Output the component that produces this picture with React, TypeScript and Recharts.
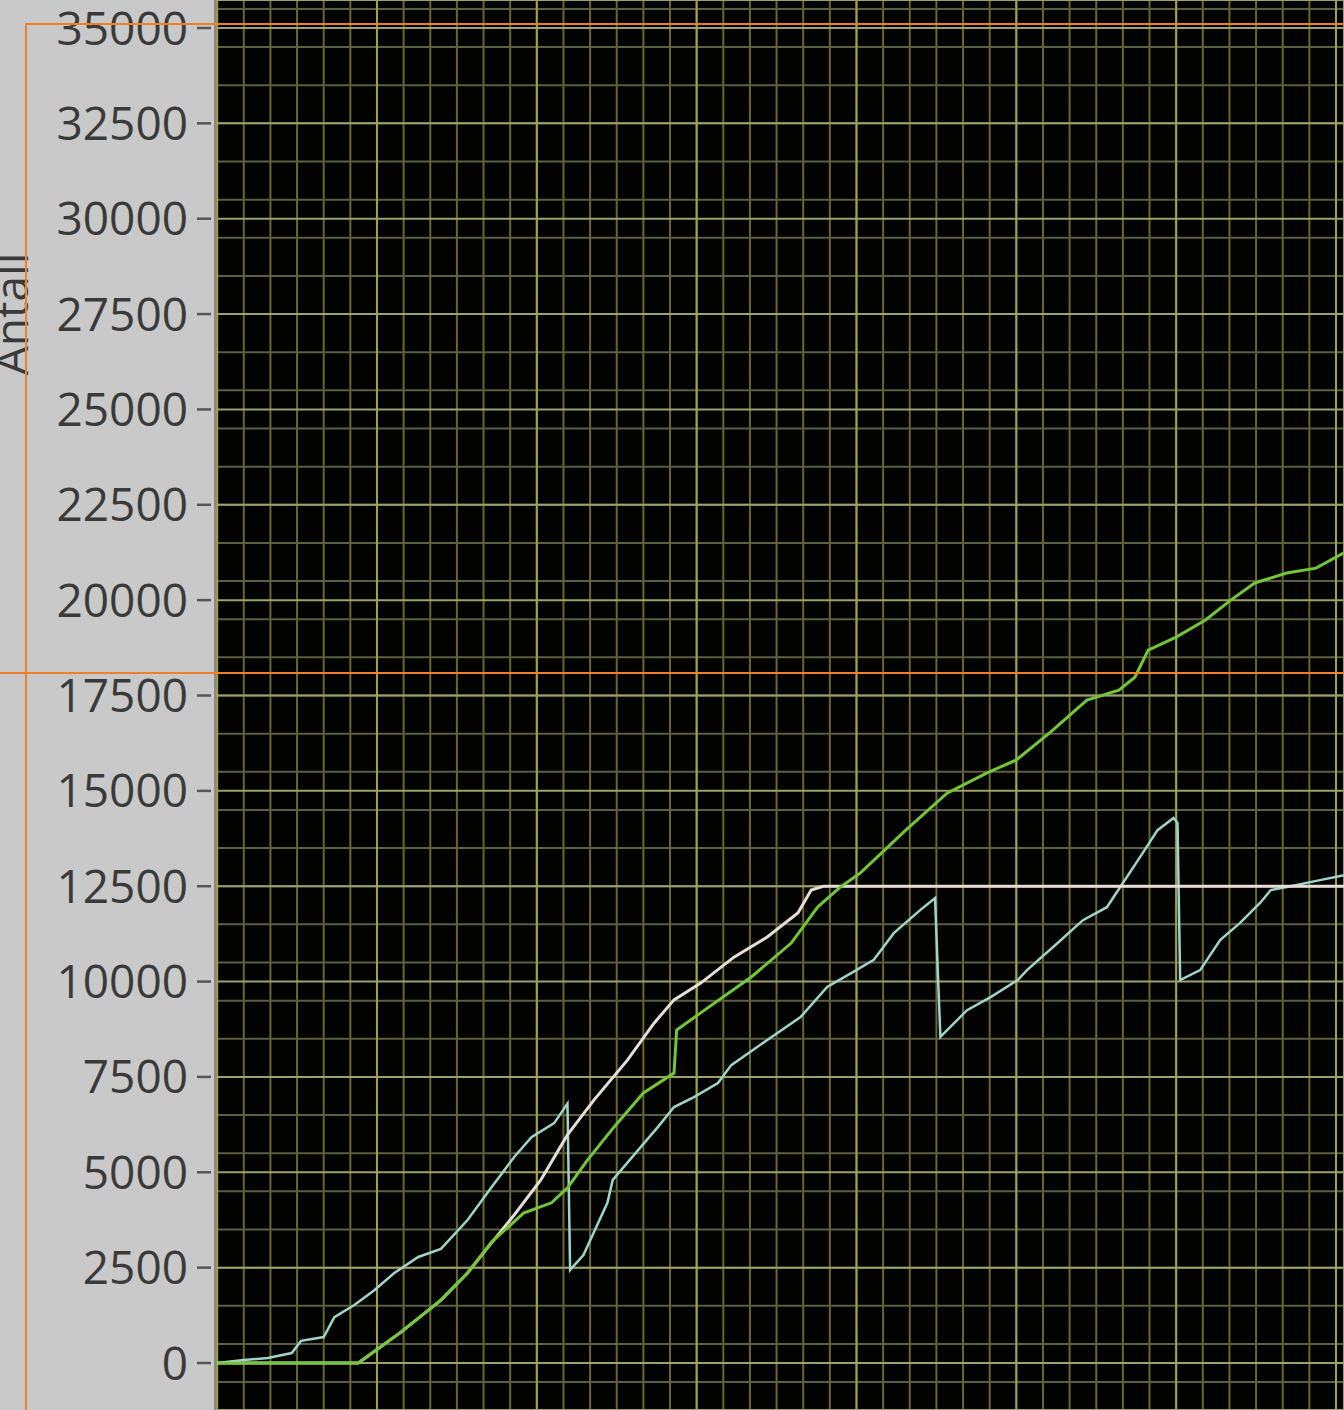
import React from 'react';
import { LineChart, Line, XAxis, YAxis, CartesianGrid } from 'recharts';

// tid i små ruter (6 små ruter per stor rute)
const turkisT = [
  0, 1.0, 1.9, 2.8, 3.15, 4.0, 4.4, 5.15, 5.9, 6.65, 7.55, 8.4, 9.4, 10.3, 11.15, 11.8, 12.65, 13.15,
  13.25, 13.75, 14.65, 14.85, 15.9, 16.55, 17.15, 17.9, 18.8, 19.3, 20.65, 21.9, 22.9, 23.8, 24.65,
  25.4, 26.4, 26.95, 27.05, 27.15, 28.15, 29.05, 30.05, 30.4, 31.55, 32.5, 33.4, 33.9, 34.65, 35.3,
  35.9, 36.05, 36.15, 36.9, 37.65, 38.4, 39.15, 39.55, 40.15, 41.4, 42.3,
];
const turkisAntall = [
  0, 80, 130, 260, 580, 680, 1200, 1520, 1910, 2360, 2780, 2990, 3750, 4610, 5400, 5920, 6290, 6800,
  2440, 2830, 4200, 4800, 5660, 6190, 6710, 6970, 7340, 7810, 8470, 9070, 9860, 10220, 10570,
  11270, 11880, 12190, 10300, 8550, 9250, 9600, 10040, 10300, 11010, 11610, 11950, 12480, 13270, 13970,
  14290, 14160, 10040, 10300, 11090, 11540, 12060, 12400, 12480, 12660, 12790,
];

const hvitT = [0, 5.3, 6.9, 8.4, 9.4, 10.3, 11.15, 12.15, 13.15, 14.15, 15.4, 16.4, 17.15, 18.15, 19.4, 20.65, 21.8, 22.3, 22.75, 42.3];
const hvitAntall = [0, 0, 810, 1650, 2360, 3150, 3880, 4800, 5980, 6900, 7940, 8910, 9520, 9960, 10640, 11170, 11800, 12400, 12500, 12500];

const gronnT = [
  0, 5.3, 6.9, 8.4, 9.4, 10.3, 11.5, 12.55, 13.15, 13.9, 14.9, 16.0, 17.15, 17.25, 18.15, 20.05, 21.55,
  22.55, 23.4, 24.15, 25.85, 27.4, 28.9, 30.0, 31.25, 32.65, 33.85, 34.45, 34.95, 36.0, 37.1, 38.05,
  38.95, 40.15, 41.25, 42.3,
];
const gronnAntall = [
  0, 0, 810, 1650, 2360, 3170, 3930, 4200, 4590, 5320, 6190, 7080, 7600, 8730, 9180, 10120, 11010,
  11960, 12480, 12850, 13970, 14940, 15470, 15810, 16520, 17380, 17640, 17980, 18690, 19030, 19480, 20000,
  20450, 20710, 20840, 21240,
];

const yTicks = [0, 2500, 5000, 7500, 10000, 12500, 15000, 17500, 20000, 22500, 25000, 27500, 30000, 32500, 35000];
const yMinor = Array.from({ length: 74 }, (_, i) => -1000 + i * 500);
const xMajor = [0, 6, 12, 18, 24, 30, 36, 42];
const xMinor = Array.from({ length: 43 }, (_, i) => i);

const X_DOMAIN: [number, number] = [-0.08, 42.3];
const Y_DOMAIN: [number, number] = [-1232, 35734];

const toPoints = (t: number[], v: number[]) => t.map((x, i) => ({ t: x, antall: v[i] }));

const FONT = "'Open Sans', sans-serif";

const YTick = (props: any) => {
  const { x, y, payload } = props;
  return (
    <g>
      <text x={x - 27} y={y} dy="0.36em" textAnchor="end" fill="#3a3a3a" fontSize={46} fontFamily={FONT}>
        {payload.value}
      </text>
      <line x1={x - 18} x2={x - 4} y1={y} y2={y} stroke="#555" strokeWidth={2.5} />
    </g>
  );
};

const AxisTitle = (props: any) => {
  const { viewBox } = props;
  const x = viewBox.x + 28;
  const y = 314;
  return (
    <text
      x={x}
      y={y}
      transform={`rotate(-90, ${x}, ${y})`}
      textAnchor="middle"
      fill="#3a3a3a"
      fontSize={46}
      fontFamily={FONT}
    >
      Antall
    </text>
  );
};

const orange = '#f07f2c';

export default function App() {
  return (
    <div style={{ position: 'absolute', left: 0, top: 0, width: 1344, height: 1410, background: '#c9c9c9', overflow: 'hidden' }}>
      <LineChart width={1344} height={1410} margin={{ top: 0, right: 0, bottom: 0, left: 0 }}>
        <XAxis xAxisId="major" type="number" dataKey="t" domain={X_DOMAIN} ticks={xMajor} allowDataOverflow hide />
        <XAxis xAxisId="minor" type="number" dataKey="t" domain={X_DOMAIN} ticks={xMinor} allowDataOverflow hide />
        <YAxis
          yAxisId="major"
          type="number"
          domain={Y_DOMAIN}
          ticks={yTicks}
          allowDataOverflow
          interval={0}
          width={215}
          tickSize={0}
          tickMargin={0}
          tickLine={false}
          axisLine={{ stroke: '#8a8a8a', strokeWidth: 2 }}
          tick={<YTick />}
          label={<AxisTitle />}
        />
        <YAxis yAxisId="minor" type="number" domain={Y_DOMAIN} ticks={yMinor} allowDataOverflow hide />

        <CartesianGrid xAxisId="minor" yAxisId="minor" horizontal={false} stroke="#68682e" strokeWidth={2} fill="#020200" />
        <CartesianGrid xAxisId="minor" yAxisId="minor" vertical={false} stroke="#5e5e40" strokeWidth={2} />
        <CartesianGrid xAxisId="major" yAxisId="major" horizontal={false} stroke="#a2a24a" strokeWidth={2} />
        <CartesianGrid xAxisId="major" yAxisId="major" vertical={false} stroke="#a0a06a" strokeWidth={2} />

        <Line
          xAxisId="major"
          yAxisId="major"
          data={toPoints(turkisT, turkisAntall)}
          dataKey="antall"
          type="linear"
          stroke="#9fd4cc"
          strokeWidth={2.5}
          dot={false}
          isAnimationActive={false}
        />
        <Line
          xAxisId="major"
          yAxisId="major"
          data={toPoints(hvitT, hvitAntall)}
          dataKey="antall"
          type="linear"
          stroke="#e6ddd6"
          strokeWidth={3}
          dot={false}
          isAnimationActive={false}
        />
        <Line
          xAxisId="major"
          yAxisId="major"
          data={toPoints(gronnT, gronnAntall)}
          dataKey="antall"
          type="linear"
          stroke="#74c639"
          strokeWidth={3}
          dot={false}
          isAnimationActive={false}
        />
      </LineChart>
      <div style={{ position: 'absolute', left: 26, top: 23, right: 0, height: 2, background: orange }} />
      <div style={{ position: 'absolute', left: 25, top: 23, bottom: 0, width: 2, background: orange }} />
      <div style={{ position: 'absolute', left: 0, top: 672, right: 0, height: 2, background: orange }} />
    </div>
  );
}
